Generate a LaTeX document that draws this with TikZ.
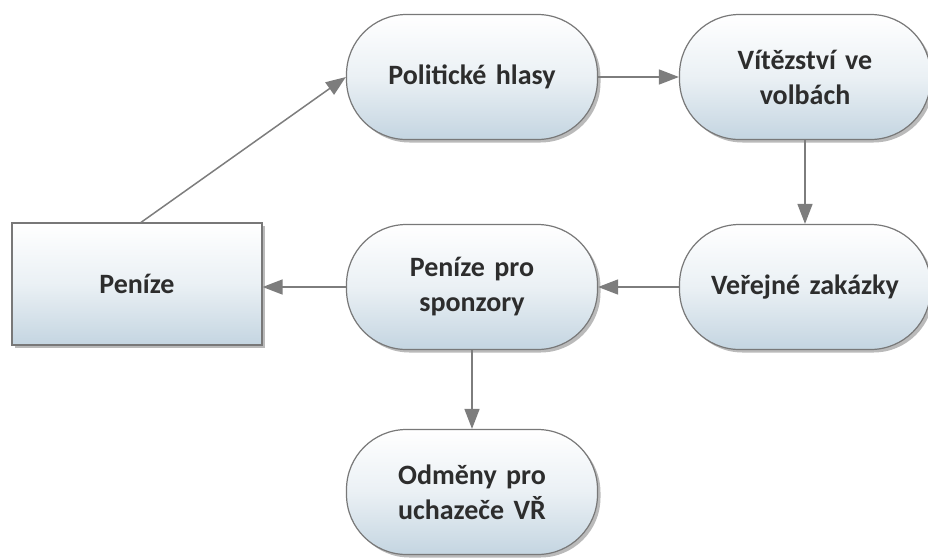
\documentclass[tikz,border=0pt]{standalone}
\usepackage{fontspec}
\setmainfont{Carlito}
\usetikzlibrary{arrows.meta,shadows}
\definecolor{boxbot}{RGB}{196,213,225}
\definecolor{boxline}{RGB}{120,120,120}
\definecolor{txt}{RGB}{45,45,45}
\definecolor{arr}{RGB}{125,125,125}
\tikzset{
  base/.style={draw=boxline, line width=1.2pt, top color=white, bottom color=boxbot,
    middle color={boxbot!35}, shading angle=0,
    drop shadow={shadow xshift=3pt, shadow yshift=-3pt, opacity=0.45, fill=black!60},
    text=txt, font=\bfseries\fontsize{28}{35}\selectfont, align=center,
    inner sep=0pt},
  pill/.style={base, rounded corners=60pt, minimum width=251pt, minimum height=125pt, text width=220pt},
  rect/.style={base, minimum width=250pt, minimum height=122pt, text width=220pt},
  conn/.style={draw=arr, line width=1.5pt, -{Triangle[length=20pt,width=15pt]}, shorten >=0pt},
}
\begin{document}
\begin{tikzpicture}[x=1pt,y=-1pt]
\useasboundingbox (0,0) rectangle (928,557);
\node[pill] (hlasy) at (472,77) {Politické hlasy};
\node[pill] (vitez) at (805,77) {Vítězství ve\\volbách};
\node[pill] (zak) at (805,287) {Veřejné zakázky};
\node[pill] (spon) at (472,287) {Peníze pro\\sponzory};
\node[rect] (pen) at (137,284) {Peníze};
\node[pill] (odm) at (472,492) {Odměny pro\\uchazeče VŘ};
\draw[conn] (pen.north) ++(4,0) coordinate (p0) -- (hlasy.west);
\draw[conn] (hlasy) -- (vitez);
\draw[conn] (vitez) -- (zak);
\draw[conn] (zak) -- (spon);
\draw[conn] (spon.west) -- (pen.east |- spon.west);
\draw[conn] (spon) -- (odm);
\end{tikzpicture}
\end{document}
